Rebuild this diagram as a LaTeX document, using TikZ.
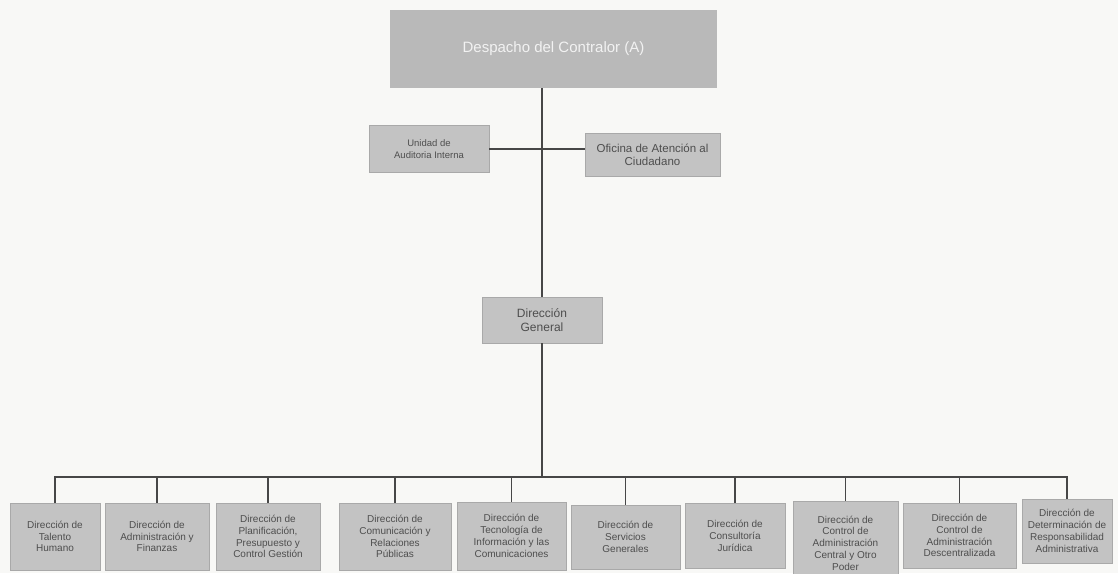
\documentclass[tikz,border=0pt]{standalone}
\usepackage{fontspec}
\setmainfont{Liberation Sans}
\usepackage{xcolor}
\usetikzlibrary{positioning}
\usetikzlibrary{calc}
\definecolor{fondo}{HTML}{F8F8F6}
\definecolor{cajagris}{HTML}{C3C3C3}
\definecolor{bordegris}{HTML}{A9A9A9}
\definecolor{textogris}{HTML}{4E4E4E}
\definecolor{lineagris}{HTML}{474747}

\begin{document}
\begin{tikzpicture}[x=1pt,y=-1pt,
    caja/.style={draw=bordegris,fill=cajagris,text=textogris,align=center,inner sep=2pt},
    linea/.style={draw=lineagris,line width=1.2pt}]
		\clip (0,0) rectangle (1118,573);
		\fill[fondo] (0,0) rectangle (1118,573);
		\node[caja,draw=none,fill=cajagris!95!black,text=white!90!gray,minimum width=327pt,minimum height=78pt,font=\fontsize{15}{17}\selectfont] (despacho) at (553.5,49) {Despacho del Contralor (A)};
		\node[caja,minimum width=120pt,minimum height=47pt,font=\fontsize{9.5}{12}\selectfont] (unidad) at (429,149) {Unidad de\\Auditoria Interna};
		\node[caja,minimum width=135pt,minimum height=43pt,font=\fontsize{11.5}{13}\selectfont] (oficina) at (652.5,154.5) {Oficina de Atención al\\Ciudadano};
		\node[caja,minimum width=120pt,minimum height=46pt,font=\fontsize{12}{13.5}\selectfont] (general) at (542,320) {Dirección\\General};
		\coordinate (bus) at (542,477);
		\draw[linea] (general.north) -- (general.north |- despacho.south);
		\draw[linea] (unidad.east) -- (unidad.east -| oficina.west);
		\draw[linea] (general.south) -- (bus);
		\foreach \n/\cx/\cy/\bw/\bh/\txt in {
		  1/55/536.5/90/67/{Dirección de\\Talento\\Humano},
		  2/157/536.5/104/67/{Dirección de\\Administración y\\Finanzas},
		  3/268/536.5/104/67/{Dirección de\\Planificación,\\Presupuesto y\\Control Gestión},
		  4/395/536.5/112/67/{Dirección de\\Comunicación y\\Relaciones\\Públicas},
		  5/511.5/536/109/68/{Dirección de\\Tecnología de\\Información y las\\Comunicaciones},
		  6/625.5/537/109/64/{Dirección de\\Servicios\\Generales},
		  7/735/536/100/65/{Dirección de\\Consultoría\\Jurídica},
		  8/845.5/543/105/84/{Dirección de\\Control de\\Administración\\Central y Otro\\Poder},
		  9/959.5/535.5/113/65/{Dirección de\\Control de\\Administración\\Descentralizada},
		  10/1067/531/90/64/{Dirección de\\Determinación de\\Responsabilidad\\Administrativa}}{
		  \node[caja,minimum width=\bw pt,minimum height=\bh pt,font=\fontsize{10}{11.8}\selectfont] (d\n) at (\cx,\cy) {\txt};
		  \draw[linea] (bus) -| (d\n.north);
		}
\end{tikzpicture}
\end{document}
